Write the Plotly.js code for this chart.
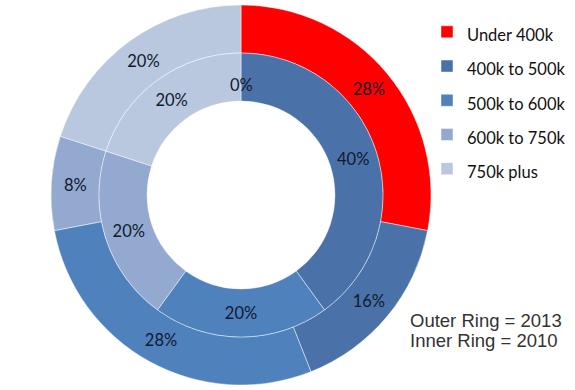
<!DOCTYPE html>
<html><head><meta charset="utf-8">
<script src="https://cdn.plot.ly/plotly-3.0.1.min.js"></script>
<style>html,body{margin:0;padding:0;background:#fff}</style>
</head><body>
<div id="chart" style="width:575px;height:390px"></div>
<script>
var categories = ['Under 400k', '400k to 500k', '500k to 600k', '600k to 750k', '750k plus'];
var outer2013 = [28, 16, 28, 8, 20];
var inner2010 = [0, 40, 20, 20, 20];
var colors = ['#FF0000', '#4A72A8', '#4F81BD', '#94A9CF', '#B9C7DF'];
var noteLines = ['Outer Ring = 2013', 'Inner Ring = 2010'];

// geometry (pixels)
var W = 575, H = 390, CX = 241, CY = 195;
var R_OUT = 190, R_MID = 142, R_HOLE = 94;

var legendLabels = categories.map(function(c){ return '<span style="font-size:16.5px">' + c + '</span>'; });
var sliceFont = {family: 'Lato, "Open Sans", sans-serif', size: 16.5, color: '#0f1a2e'};

function pct(arr){ return arr.map(function(v){ return v + '%'; }); }

var outer = {
  type: 'pie', labels: legendLabels, values: outer2013, sort: false,
  direction: 'clockwise', rotation: 0, hole: R_MID / R_OUT,
  domain: {x: [(CX - R_OUT) / W, (CX + R_OUT) / W], y: [(H - CY - R_OUT) / H, (H - CY + R_OUT) / H]},
  marker: {colors: colors, line: {color: 'rgba(255,255,255,0.45)', width: 1}},
  text: pct(outer2013), textinfo: 'text', textposition: 'inside',
  insidetextorientation: 'horizontal', insidetextfont: sliceFont,
  hoverinfo: 'label+value', showlegend: true
};
var inner = {
  type: 'pie', labels: legendLabels, values: inner2010, sort: false,
  direction: 'clockwise', rotation: 0, hole: R_HOLE / R_MID,
  domain: {x: [(CX - R_MID) / W, (CX + R_MID) / W], y: [(H - CY - R_MID) / H, (H - CY + R_MID) / H]},
  marker: {colors: colors, line: {color: 'rgba(255,255,255,0.45)', width: 1}},
  text: pct(inner2010), textinfo: 'text', textposition: 'inside',
  insidetextorientation: 'horizontal', insidetextfont: sliceFont,
  hoverinfo: 'label+value', showlegend: false
};

// Plotly does not draw labels for zero-size slices; add them as annotations at the slice angle
var annotations = [];
var total = inner2010.reduce(function(a, b){ return a + b; }, 0);
var cum = 0;
inner2010.forEach(function(v){
  if (v === 0) {
    var ang = cum / total * 2 * Math.PI;
    var r = R_HOLE + 16;
    annotations.push({
      xref: 'paper', yref: 'paper',
      x: (CX + r * Math.sin(ang)) / W, y: (H - CY + r * Math.cos(ang)) / H,
      xanchor: 'center', yanchor: 'middle', showarrow: false,
      text: v + '%', font: sliceFont
    });
  }
  cum += v;
});
noteLines.forEach(function(t, i){
  annotations.push({
    xref: 'paper', yref: 'paper', x: 408 / W, y: 1 - (320 + i * 20) / H,
    xanchor: 'left', yanchor: 'middle', align: 'left', showarrow: false,
    text: t, font: {family: '"Liberation Sans", Arial, sans-serif', size: 18.5, color: '#333'}
  });
});

var layout = {
  width: W, height: H,
  margin: {l: 0, r: 0, t: 0, b: 0},
  paper_bgcolor: '#fff', plot_bgcolor: '#fff',
  showlegend: true,
  legend: {x: 427 / W, y: 0.975, xanchor: 'left', yanchor: 'top',
           font: {family: 'Lato, "Open Sans", sans-serif', size: 24, color: '#111'},
           bgcolor: 'rgba(0,0,0,0)', traceorder: 'normal'},
  annotations: annotations
};

Plotly.newPlot('chart', [outer, inner], layout, {displayModeBar: false, staticPlot: true});
</script>
</body></html>
